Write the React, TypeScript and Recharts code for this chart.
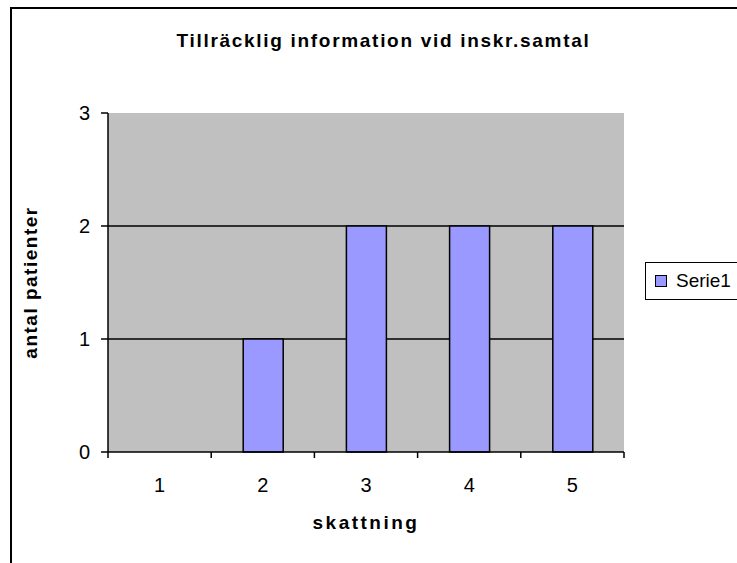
import { Bar, BarChart, CartesianGrid, Legend, XAxis, YAxis } from "recharts";

const categories = ["1", "2", "3", "4", "5"];
const serie1 = [0, 1, 2, 2, 2];
const yTicks = [0, 1, 2, 3];
const gridValues = [1, 2];

const data = categories.map((c, i) => ({ skattning: c, Serie1: serie1[i] }));

const FONT = "'Liberation Sans', Arial, sans-serif";
const W = 737;
const H = 563;
const PLOT_LEFT = 108;
const PLOT_RIGHT = 624;
const BAND = (PLOT_RIGHT - PLOT_LEFT) / categories.length;
const LEGEND_W = 100;

function XTick(props: any) {
  const { x, y, payload, index } = props;
  const last = index === categories.length - 1;
  return (
    <g>
      <line x1={x - BAND / 2} x2={x - BAND / 2} y1={y} y2={y + 6} stroke="#000" strokeWidth={1.5} />
      {last && (
        <line x1={x + BAND / 2} x2={x + BAND / 2} y1={y} y2={y + 6} stroke="#000" strokeWidth={1.5} />
      )}
      <text x={x} y={y + 40} textAnchor="middle" fontSize={20} fontFamily={FONT} fill="#000">
        {payload.value}
      </text>
    </g>
  );
}

function LegendBox() {
  return (
    <div
      style={{
        width: LEGEND_W,
        height: 38,
        boxSizing: "border-box",
        border: "1px solid #000",
        background: "#fff",
        display: "flex",
        alignItems: "center",
        paddingLeft: 9,
        fontFamily: FONT,
        fontSize: 19,
        color: "#000",
      }}
    >
      <span
        style={{
          width: 10,
          height: 10,
          background: "#9999FF",
          border: "1px solid #000",
          display: "inline-block",
        }}
      />
      <span style={{ marginLeft: 9 }}>Serie1</span>
    </div>
  );
}

export default function App() {
  return (
    <div
      style={{
        position: "absolute",
        left: 0,
        top: 0,
        width: W,
        height: H,
        overflow: "hidden",
        background: "#fff",
        fontFamily: FONT,
      }}
    >
      <div
        style={{
          position: "absolute",
          left: 10,
          top: 7,
          width: W + 20,
          height: H + 20,
          border: "2px solid #000",
        }}
      />
      <div
        style={{
          position: "absolute",
          left: 0,
          top: 31,
          width: 767,
          textAlign: "center",
          fontWeight: "bold",
          fontSize: 19,
          lineHeight: "19px",
          letterSpacing: 1.7,
        }}
      >
        Tillräcklig information vid inskr.samtal
      </div>
      <BarChart
        width={W}
        height={H}
        data={data}
        margin={{ top: 113, right: 113 - LEGEND_W, bottom: 21, left: 0 }}
        barSize={40}
        style={{ position: "absolute", left: 0, top: 0 }}
      >
        <CartesianGrid
          vertical={false}
          horizontalValues={gridValues}
          stroke="#000"
          strokeWidth={1.5}
          fill="#C0C0C0"
          fillOpacity={1}
        />
        <XAxis
          xAxisId="top"
          orientation="top"
          dataKey="skattning"
          height={0}
          tick={false}
          tickLine={false}
          axisLine={{ stroke: "#808080", strokeWidth: 2 }}
        />
        <YAxis
          yAxisId="right"
          orientation="right"
          domain={[0, 3]}
          width={0}
          tick={false}
          tickLine={false}
          axisLine={{ stroke: "#808080", strokeWidth: 2 }}
        />
        <XAxis
          dataKey="skattning"
          height={90}
          tickLine={false}
          tickSize={0}
          tickMargin={0}
          axisLine={{ stroke: "#000", strokeWidth: 1.5 }}
          tick={<XTick />}
          label={{
            value: "skattning",
            position: "insideBottom",
            offset: 13,
            style: {
              fontFamily: FONT,
              fontSize: 19,
              fontWeight: "bold",
              fill: "#000",
              letterSpacing: 2.5,
            },
          }}
        />
        <YAxis
          width={108}
          domain={[0, 3]}
          ticks={yTicks}
          tickSize={7}
          tickMargin={11}
          tickLine={{ stroke: "#000", strokeWidth: 1.5 }}
          axisLine={{ stroke: "#000", strokeWidth: 1.5 }}
          tick={{ fontSize: 20, fontFamily: FONT, fill: "#000" }}
          label={{
            value: "antal patienter",
            angle: -90,
            position: "insideLeft",
            offset: 30,
            style: {
              textAnchor: "middle",
              fontFamily: FONT,
              fontSize: 19,
              fontWeight: "bold",
              fill: "#000",
              letterSpacing: 1.5,
            },
          }}
        />
        <Legend
          layout="vertical"
          align="right"
          verticalAlign="middle"
          content={<LegendBox />}
          wrapperStyle={{ left: 645, top: 262, width: LEGEND_W }}
        />
        <Bar dataKey="Serie1" fill="#9999FF" stroke="#000" strokeWidth={1.5} isAnimationActive={false} />
      </BarChart>
    </div>
  );
}
